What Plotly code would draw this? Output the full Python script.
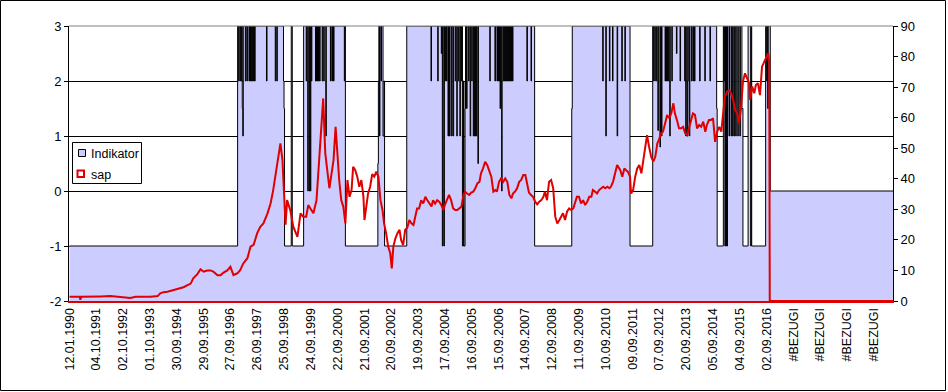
import plotly.graph_objects as go

# ---------------- data ----------------
tick_labels = ["12.01.1990", "04.10.1991", "02.10.1992", "01.10.1993", "30.09.1994",
               "29.09.1995", "27.09.1996", "26.09.1997", "25.09.1998", "24.09.1999",
               "22.09.2000", "21.09.2001", "20.09.2002", "19.09.2003", "17.09.2004",
               "16.09.2005", "15.09.2006", "14.09.2007", "12.09.2008", "11.09.2009",
               "10.09.2010", "09.09.2011", "07.09.2012", "20.09.2013", "05.09.2014",
               "04.09.2015", "02.09.2016", "#BEZUGI", "#BEZUGI", "#BEZUGI", "#BEZUGI"]
tick_rows = [i * 52 for i in range(len(tick_labels))]  # row index of each labelled category
n_rows = 1598

left_ticks = [-2, -1, 0, 1, 2, 3]
left_tick_labels = ["-2", "-1", "0", "1", "2", "3"]

# Indikator: row index where the value changes, and the new value (left axis)
ind_week = [0, 326, 328, 329, 331, 332, 333, 334, 335, 336, 337, 341, 342, 344, 345, 348, 349,
            351, 353, 355, 356, 357, 358, 359, 360, 382, 383, 399, 400, 402, 403, 415, 416, 417,
            430, 432, 454, 459, 460, 462, 463, 465, 466, 467, 468, 469, 470, 477, 478, 479, 480,
            481, 482, 483, 484, 485, 486, 490, 491, 493, 494, 497, 498, 506, 507, 509, 510, 512,
            513, 533, 534, 535, 598, 599, 600, 601, 602, 604, 605, 608, 610, 611, 654, 701, 702,
            714, 715, 721, 722, 723, 724, 726, 727, 728, 729, 731, 732, 734, 735, 737, 738, 741,
            742, 744, 745, 748, 749, 751, 752, 754, 755, 757, 758, 760, 761, 762, 764, 765, 767,
            768, 770, 771, 774, 775, 777, 778, 780, 781, 783, 784, 785, 786, 787, 788, 789, 790,
            792, 793, 815, 816, 825, 826, 829, 830, 831, 832, 833, 834, 835, 836, 838, 839, 841,
            842, 843, 844, 845, 846, 847, 848, 849, 850, 851, 852, 853, 854, 855, 856, 857, 858,
            859, 860, 887, 888, 895, 896, 902, 974, 975, 1034, 1035, 1040, 1041, 1047, 1048,
            1053, 1054, 1062, 1063, 1071, 1072, 1077, 1078, 1087, 1131, 1132, 1133, 1135, 1136,
            1138, 1139, 1141, 1142, 1145, 1146, 1148, 1149, 1155, 1156, 1157, 1158, 1159, 1160,
            1161, 1162, 1164, 1165, 1168, 1169, 1177, 1178, 1184, 1185, 1193, 1194, 1195, 1196,
            1197, 1198, 1199, 1200, 1202, 1203, 1206, 1207, 1209, 1210, 1212, 1213, 1222, 1223,
            1232, 1233, 1242, 1243, 1255, 1256, 1268, 1269, 1270, 1271, 1272, 1273, 1274, 1275,
            1276, 1279, 1280, 1283, 1284, 1286, 1287, 1289, 1290, 1292, 1293, 1296, 1297, 1300,
            1301, 1304, 1306, 1316, 1321, 1322, 1323, 1350, 1352, 1353, 1354, 1355, 1359, 1597]
ind_value = [-1, 3, 2, 3, 2, 3, 2, 3, 1.5, 1, 3, 2, 3, 2, 3, 2, 3,
             2, 3, 2, 3, 2, 3, 2, 3, 2, 3, 2, 3, 2, 3, 2, 1.5, -1,
             3, -1, 3, 2, 3, 0, 3, 0, 3, 0, 3, 2, 3, 2, 3, 2, 3,
             2, 3, 2, 3, 2, 3, 2, 3, 2, 3, 1, 3, 2, 3, 2, 3, 2,
             3, 2, 3, -1, 0.5, 2, 3, 1, 3, 2, 3, 1, 2, -1, 3, 2, 3,
             2, 3, 2.5, 3, -1, 3, -1, 3, 2, 3, 2, 3, 1, 3, 1, 3, 1,
             3, 1, 3, 2, 3, 1, 3, 2, 3, 1, 3, 2, 3, -1, 2, -1, 1.5,
             3, 1.5, 3, 2, 3, 1, 3, 2, 3, 1, 3, 1, 3, 1, 3, 1, 3,
             0.5, 3, 2, 3, 2, 3, 2, 3, 2, 3, 2, 3, 1.5, 3, 0, 3, 2,
             3, 2, 3, 2, 3, 2, 3, 2, 3, 2, 3, 2, 3, 2, 3, 2, 3,
             2, 3, 2, 3, 2, 3, -1, 1.5, 3, 2, 3, 1, 3, 2, 3,
             2, 3, 1, 3, 2, 3, 2, 3, -1, 3, 2, 3, 2, 3,
             2, 3, 1.1, 3, 0.8, 3, 1, 3, 2, 3, 2, 3, 2, 3,
             2, 3, 1, 3, 2, 3, 2.5, 3, 2, 3, 2, 3, 1, 2,
             3, 1, 2, 3, 1, 3, 2, 3, 2, 3, 2, 3, 2, 3,
             2, 3, 2, 3, 1.5, -1, 3, 2, 3, -1, 3, -1, 3, -1,
             3, 1, 3, 1, 3, 1, 3, 1, 3, 1, 3, 1, 3, 1,
             3, 1.5, -1, 3, -1, 3, -1, 3, 2, 3, 1.5, 3, 0, 0]

# sap: row index and value (right axis)
sap_week = [0, 20, 21, 23, 60, 79, 118, 128, 157, 171, 176, 182, 190, 196, 202, 209, 215, 221,
            229, 235, 240, 248, 254, 260, 267, 273, 279, 287, 293, 298, 306, 312, 318, 326, 331,
            337, 345, 351, 357, 364, 370, 376, 384, 390, 395, 403, 409, 413, 417, 419, 422, 428,
            434, 442, 448, 453, 459, 463, 469, 473, 479, 485, 488, 492, 496, 500, 504, 508, 512,
            516, 519, 523, 527, 531, 535, 539, 543, 547, 550, 554, 558, 562, 566, 570, 572, 576,
            579, 583, 587, 591, 595, 599, 603, 607, 610, 614, 618, 622, 625, 628, 632, 636, 640,
            643, 647, 651, 655, 659, 663, 667, 671, 674, 678, 682, 686, 690, 694, 698, 702, 705,
            709, 713, 717, 721, 725, 729, 733, 736, 740, 744, 748, 752, 756, 760, 764, 767, 771,
            775, 779, 783, 787, 791, 795, 798, 802, 806, 810, 814, 818, 822, 826, 829, 833, 837,
            841, 845, 849, 853, 857, 860, 864, 868, 872, 876, 880, 884, 888, 891, 895, 899, 903,
            907, 911, 915, 919, 922, 926, 930, 934, 938, 942, 946, 950, 953, 957, 961, 965, 969,
            973, 977, 981, 984, 988, 992, 996, 1000, 1004, 1008, 1012, 1015, 1019, 1023, 1027,
            1031, 1035, 1039, 1043, 1047, 1050, 1054, 1058, 1062, 1066, 1068, 1072, 1076, 1079,
            1083, 1087, 1089, 1093, 1097, 1101, 1105, 1109, 1112, 1116, 1120, 1124, 1128, 1132,
            1136, 1140, 1143, 1147, 1151, 1155, 1159, 1163, 1167, 1171, 1174, 1178, 1182, 1186,
            1190, 1194, 1198, 1202, 1205, 1209, 1213, 1217, 1221, 1225, 1229, 1233, 1236, 1240,
            1244, 1248, 1252, 1256, 1260, 1264, 1267, 1271, 1275, 1279, 1283, 1287, 1291, 1295,
            1298, 1302, 1306, 1310, 1314, 1318, 1320, 1324, 1328, 1331, 1335, 1339, 1343, 1347,
            1351, 1355, 1357, 1358, 1597]
sap_value = [1.4, 1.4, 0.4, 1.4, 1.5, 1.6, 1.0, 1.4, 1.4, 1.6, 2.5, 2.9, 3.05, 3.3, 3.6, 4.0, 4.0, 4.5,
             5.2, 5.7, 7.4, 8.8, 10.4, 9.6, 10, 10, 9.6, 8.4, 8.4, 9.2, 10, 11.2, 8.5, 9.1, 10.1,
             12.3, 14, 17.8, 18.4, 22.2, 24.3, 25.4, 28.7, 32, 36.3, 45, 51.6, 46, 33, 25, 33, 29.8,
             24.3, 21, 28.7, 27.6, 27.6, 31.4, 29.8, 28.7, 33, 48.3, 59.2, 66.3, 48.3, 41.8, 36.9, 41.5, 46.1,
             57, 49.4, 39.6, 33, 30.9, 25.4, 39.6, 34.1, 36.3, 43.9, 42.9, 40.7, 37.4, 39.6, 34.1, 26.5, 30.9,
             35.2, 37.4, 41.5, 40.7, 42.3, 40.7, 33, 29.8, 25.4, 22.2, 17.8, 15.6, 10.7, 17.8, 20.5, 22.2, 23.3,
             20, 18.3, 23.3, 24, 26.5, 25.4, 24.9, 28.7, 30.3, 30.3, 33, 31.9, 34.1, 33, 31.9, 30.9, 33,
             31.9, 33, 32.5, 31.4, 29.8, 31.9, 33.6, 34.7, 33, 30.3, 29.8, 29.8, 30.3, 30.9, 34.7, 35.8, 35.2,
             34.7, 35.5, 35.8, 36.9, 38.5, 39, 41.8, 43.4, 45.6, 44.5, 42.9, 40.7, 35.8, 36.3, 35.8, 39, 40.1,
             39, 40.1, 39, 34.7, 33.6, 35.2, 35.8, 36.9, 39, 39.6, 41.2, 41.2, 37.7, 35.5, 34.7, 34.1, 32.5,
             31.6, 32.5, 33, 34.1, 35.8, 33, 39, 39.6, 36.9, 27.6, 25.4, 26.5, 27.6, 28.7, 26.5, 29.3, 30.3,
             29.8, 30.3, 33, 34.1, 34.1, 31.9, 33, 31.4, 32.5, 34.1, 34.1, 36.3, 35.8, 35.2, 36.3,
             36.9, 37.4, 36.9, 37.4, 36.9, 37.4, 39, 41.8, 44.5, 43.4, 42.9, 40.7, 43.4, 42.9,
             42.3, 40.7, 35.2, 36.3, 40.7, 43.4, 44.5, 41.8, 45, 50.5, 54.3, 50.5, 47.2, 45.6,
             47.2, 51.6, 52.7, 54.9, 55.4, 58.1, 60.9, 59.8, 61.4, 64.7, 61.4, 59.2, 56.5, 56.5,
             57, 54.9, 54.3, 57, 59.2, 61.4, 60.9, 56.5, 57.6, 57, 58.7, 55.4, 57.6, 59.2,
             59.2, 59.8, 52.1, 55.4, 57, 55.4, 60.4, 66.9, 68.5, 69, 68, 65.8, 62.5, 61.4,
             58.1, 62.5, 71.8, 74.5, 72.9, 71.3, 65.8, 70.2, 68, 70.7, 71.3, 67.4, 76.7, 78.3,
             79.4, 81.1, 78.3, 0, 0]

assert len(ind_week) == len(ind_value), (len(ind_week), len(ind_value))
assert len(sap_week) == len(sap_value), (len(sap_week), len(sap_value))

# ---------------- styles ----------------
FONT = "Liberation Sans, Arial, sans-serif"
LAVENDER = "#CCCCFF"
RED = "#E00000"

fig = go.Figure()

# baseline for the area fill (axis minimum)
fig.add_trace(go.Scatter(x=[ind_week[0], ind_week[-1]], y=[-2, -2], mode="lines",
                         line=dict(width=0, color=LAVENDER), hoverinfo="skip",
                         showlegend=False, yaxis="y"))
fig.add_trace(go.Scatter(x=ind_week, y=ind_value, mode="lines", name="Indikator",
                         line=dict(color="black", width=1, shape="hv"),
                         fill="tonexty", fillcolor=LAVENDER, showlegend=False, yaxis="y"))
fig.add_trace(go.Scatter(x=sap_week, y=sap_value, mode="lines", name="sap",
                         line=dict(color=RED, width=2), showlegend=False, yaxis="y2"))

W, H = 948, 392
L, R, T, B = 69, 893, 26, 301
pw, ph = R - L, B - T


def px(x):
    return (x - L) / pw


def py(y):
    return (B - y) / ph


shapes = [
    # outer chart border
    dict(type="rect", xref="paper", yref="paper", x0=px(0.5), x1=px(945.5),
         y0=py(390.5), y1=py(0.5), line=dict(color="black", width=1), layer="above"),
    # top plot line (grey)
    dict(type="line", xref="paper", yref="paper", x0=0, x1=1, y0=1, y1=1,
         line=dict(color="#808080", width=1), layer="above"),
    # legend box
    dict(type="rect", xref="paper", yref="paper", x0=px(72.5), x1=px(141.5),
         y0=py(183.5), y1=py(142.5), line=dict(color="black", width=1),
         fillcolor="white", layer="above"),
    dict(type="rect", xref="paper", yref="paper", x0=px(78.5), x1=px(85.5),
         y0=py(156.5), y1=py(149.5), line=dict(color="black", width=1),
         fillcolor=LAVENDER, layer="above"),
    dict(type="rect", xref="paper", yref="paper", x0=px(77.5), x1=px(84), y0=py(177),
         y1=py(170.5), line=dict(color=RED, width=2), fillcolor="white", layer="above"),
]

annotations = [
    dict(text="Indikator", xref="paper", yref="paper", x=px(88.5), y=py(153.5),
         xanchor="left", yanchor="middle", showarrow=False,
         font=dict(family=FONT, size=12.5, color="black")),
    dict(text="sap", xref="paper", yref="paper", x=px(88.5), y=py(174.5),
         xanchor="left", yanchor="middle", showarrow=False,
         font=dict(family=FONT, size=12.5, color="black")),
]

fig.update_layout(
    width=W, height=H,
    margin=dict(l=L, r=W - R, t=T, b=H - B, pad=0),
    paper_bgcolor="white", plot_bgcolor="white",
    font=dict(family=FONT, size=12, color="black"),
    showlegend=False,
    shapes=shapes, annotations=annotations,
    xaxis=dict(range=[-1, n_rows - 1], tickmode="array", tickvals=tick_rows,
               ticktext=tick_labels, tickangle=-90, ticks="", showgrid=False,
               zeroline=False, showline=True, linecolor=RED, linewidth=2,
               tickfont=dict(family=FONT, size=12.5, color="black"), automargin=False),
    yaxis=dict(range=[-2, 3], tickmode="array", tickvals=left_ticks,
               ticktext=left_tick_labels, showgrid=True, gridcolor="black",
               gridwidth=1, zeroline=False, showline=True, linecolor="black", linewidth=1,
               ticks="outside", ticklen=4, tickcolor="black",
               tickfont=dict(family=FONT, size=13, color="black"), automargin=False),
    yaxis2=dict(range=[0, 90], dtick=10, overlaying="y", side="right", showgrid=False,
                zeroline=False, showline=True, linecolor="black", linewidth=1,
                ticks="outside", ticklen=4, tickcolor="black",
                tickfont=dict(family=FONT, size=13, color="black"), automargin=False),
)

fig.write_html("out.html", config={"displayModeBar": False},
               post_script="document.body.style.margin='0';document.body.style.overflow='hidden';")
